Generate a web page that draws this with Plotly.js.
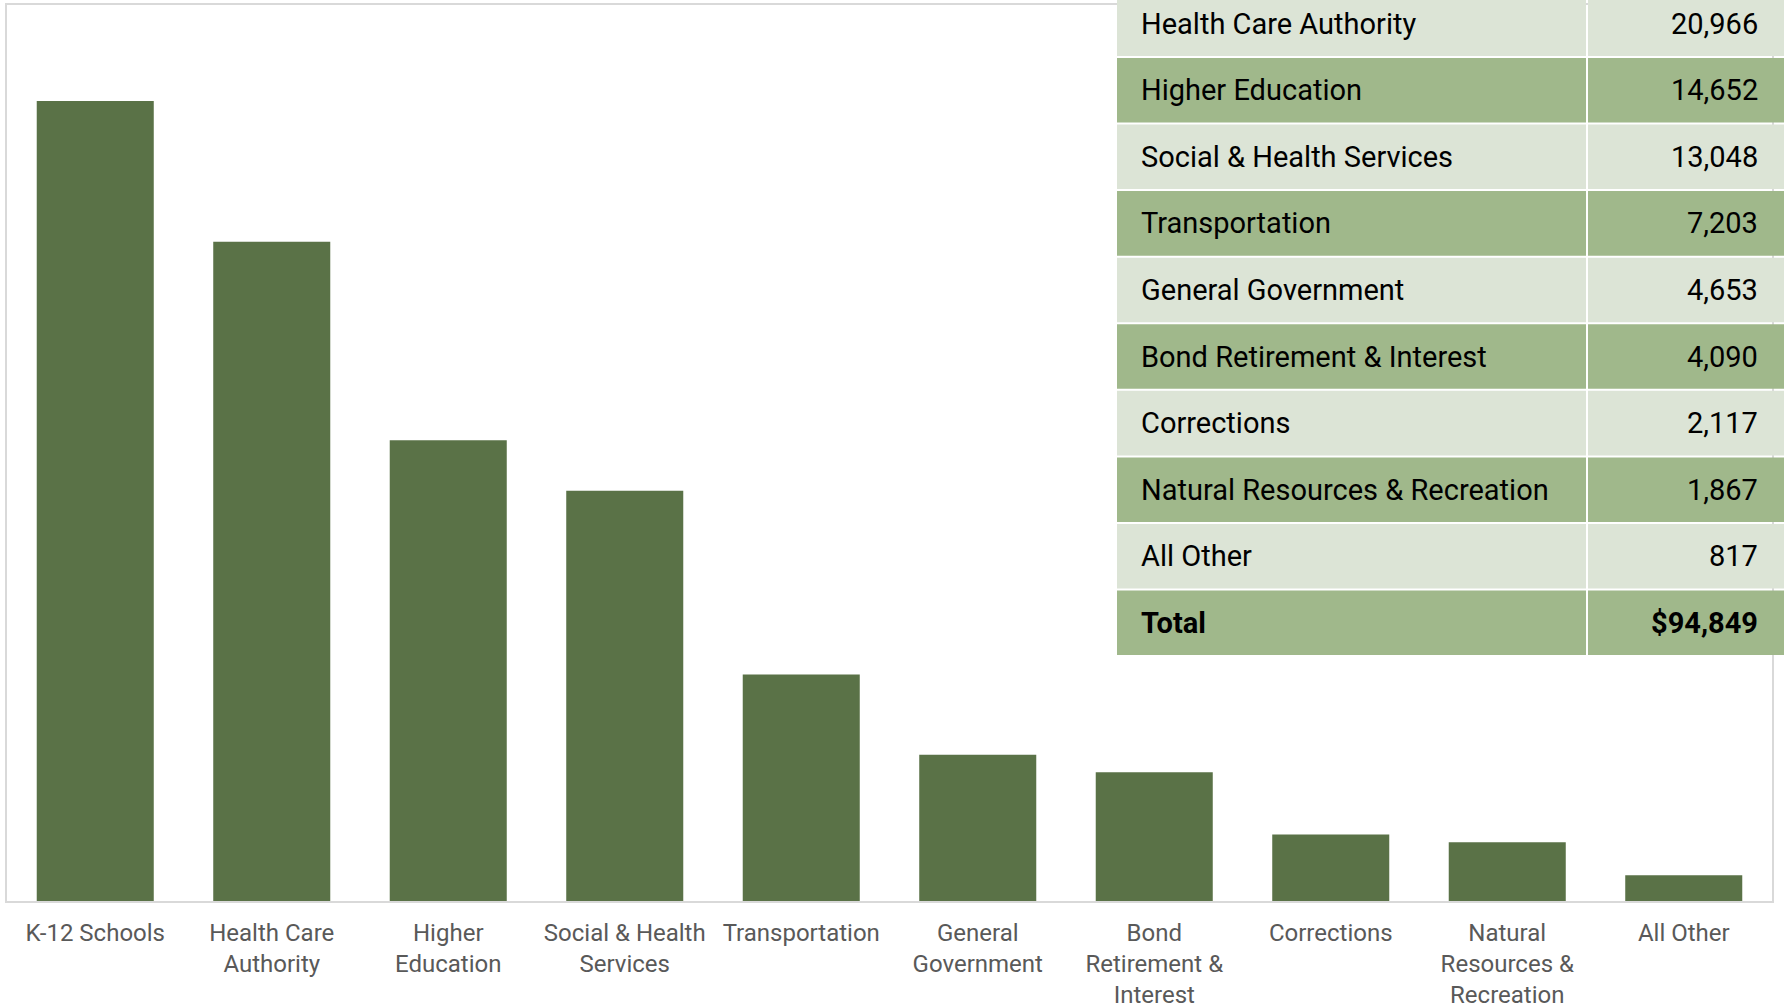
<!DOCTYPE html>
<html>
<head>
<meta charset="utf-8">
<script src="https://cdn.plot.ly/plotly-3.0.1.min.js"></script>
<style>
  html, body { margin: 0; padding: 0; background: #ffffff; overflow: hidden; }
  #chart { width: 1784px; height: 1005px; }
</style>
</head>
<body>
<div id="chart"></div>
<script>
// ---- Data (millions of dollars) ----
var categories = [
  "K-12 Schools", "Health Care Authority", "Higher Education",
  "Social & Health Services", "Transportation", "General Government",
  "Bond Retirement & Interest", "Corrections",
  "Natural Resources & Recreation", "All Other"
];
var values = [25436, 20966, 14652, 13048, 7203, 4653, 4090, 2117, 1867, 817];
var tickLabels = [
  "K-12 Schools", "Health Care<br>Authority", "Higher<br>Education",
  "Social & Health<br>Services", "Transportation", "General<br>Government",
  "Bond<br>Retirement &<br>Interest", "Corrections",
  "Natural<br>Resources &<br>Recreation", "All Other"
];
var tableNames = [
  "Health Care Authority", "Higher Education", "Social & Health Services",
  "Transportation", "General Government", "Bond Retirement & Interest",
  "Corrections", "Natural Resources & Recreation", "All Other", "Total"
];
var tableValues = ["20,966", "14,652", "13,048", "7,203", "4,653", "4,090",
                   "2,117", "1,867", "817", "$94,849"];

(function () {
  // ---- Layout constants ----
  var W = 1784, H = 1005;
  var barColor = "#5a7247";
  var lightRow = "#dce4d6";
  var darkRow = "#a0b88b";
  var frameColor = "#d9d9d9";

  function px(x) { return x / W; }
  function py(y) { return 1 - y / H; }

  var tableLeft = 1117, tableDivider = 1587, tableRight = 1800;
  var rowTop0 = -8.6, rowPitch = 66.57, rowGap = 2, colGap = 2;

  var shapes = [];
  var annotations = [];
  for (var r = 0; r < tableNames.length; r++) {
    var rowTop = rowTop0 + r * rowPitch;
    var rowBottom = rowTop + rowPitch - rowGap;
    var fill = (r % 2 === 0) ? lightRow : darkRow;
    var isTotal = (r === tableNames.length - 1);
    shapes.push({
      type: "rect", xref: "paper", yref: "paper", layer: "above",
      x0: px(tableLeft), x1: px(tableDivider - colGap / 2),
      y0: py(rowBottom), y1: py(rowTop),
      fillcolor: fill, line: { width: 0 }
    });
    shapes.push({
      type: "rect", xref: "paper", yref: "paper", layer: "above",
      x0: px(tableDivider + colGap / 2), x1: px(tableRight),
      y0: py(rowBottom), y1: py(rowTop),
      fillcolor: fill, line: { width: 0 }
    });
    var mid = (rowTop + rowBottom) / 2;
    var font = { family: "Roboto, 'Open Sans', sans-serif", size: 29, color: "#000000" };
    var name = isTotal ? "<b>" + tableNames[r] + "</b>" : tableNames[r];
    var val = isTotal ? "<b>" + tableValues[r] + "</b>" : tableValues[r];
    annotations.push({
      xref: "paper", yref: "paper", x: px(1139), y: py(mid),
      xanchor: "left", yanchor: "middle", showarrow: false,
      text: name, font: font
    });
    annotations.push({
      xref: "paper", yref: "paper", x: px(1760), y: py(mid),
      xanchor: "right", yanchor: "middle", showarrow: false,
      text: val, font: font
    });
  }

  var trace = {
    type: "bar",
    x: categories,
    y: values,
    marker: { color: barColor, line: { width: 0 } },
    hoverinfo: "x+y"
  };

  var layout = {
    width: W, height: H,
    margin: { l: 0, r: 0, t: 0, b: 0, pad: 0 },
    paper_bgcolor: "#ffffff",
    plot_bgcolor: "#ffffff",
    showlegend: false,
    bargap: 0.337,
    xaxis: {
      domain: [px(7), px(1772)],
      type: "category",
      tickmode: "array",
      tickvals: categories,
      ticktext: tickLabels,
      ticks: "",
      ticklabelstandoff: 9,
      showgrid: false,
      zeroline: false,
      showline: true, mirror: true,
      linecolor: frameColor, linewidth: 2,
      tickfont: { family: "Roboto, 'Open Sans', sans-serif", size: 24, color: "#595959" },
      fixedrange: true
    },
    yaxis: {
      domain: [py(901), py(5)],
      range: [0, 28490],
      showticklabels: false,
      ticks: "",
      showgrid: false,
      zeroline: false,
      showline: true, mirror: true,
      linecolor: frameColor, linewidth: 2,
      fixedrange: true
    },
    shapes: shapes,
    annotations: annotations
  };

  Plotly.newPlot("chart", [trace], layout, { displayModeBar: false, staticPlot: true });
})();
</script>
</body>
</html>
